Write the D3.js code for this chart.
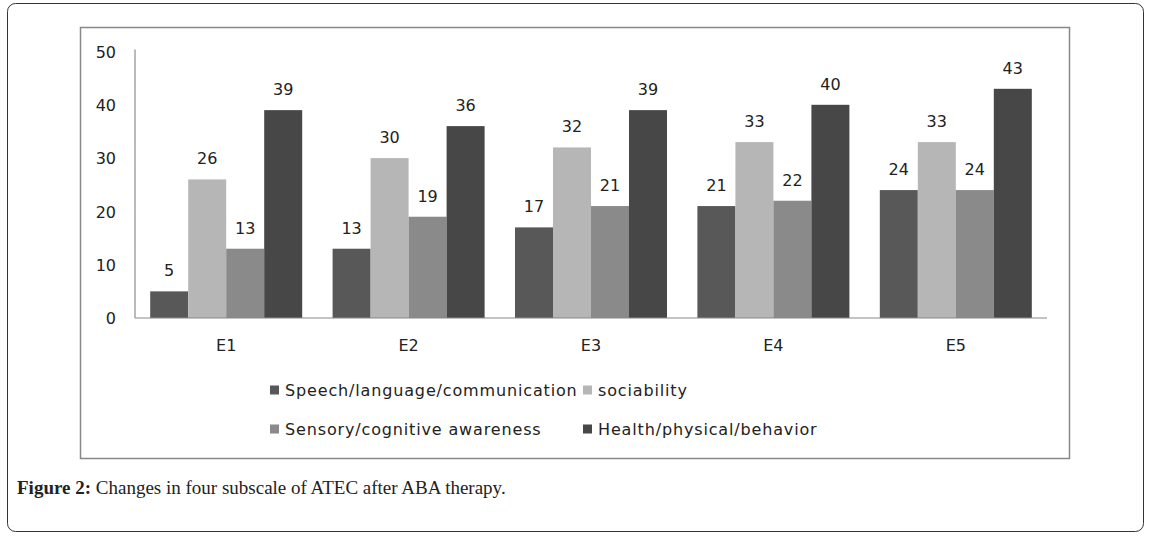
<!DOCTYPE html>
<html>
<head>
<meta charset="utf-8">
<script src="https://cdn.jsdelivr.net/npm/d3@7"></script>
<style>
  body { margin: 0; background: #fff; }
  svg { display: block; }
</style>
</head>
<body>
<div id="chart"></div>
<script>
var categories = ['E1', 'E2', 'E3', 'E4', 'E5'];
var seriesNames = ['Speech/language/communication', 'sociability', 'Sensory/cognitive awareness', 'Health/physical/behavior'];
var speech = [5, 13, 17, 21, 24];
var sociability = [26, 30, 32, 33, 33];
var sensory = [13, 19, 21, 22, 24];
var health = [39, 36, 39, 40, 43];
var yTicks = [0, 10, 20, 30, 40, 50];
var colors = ['#585858', '#b6b6b6', '#8a8a8a', '#474747'];

var series = [speech, sociability, sensory, health];

var W = 1152, H = 536;
var svg = d3.select('#chart').append('svg')
  .attr('width', W)
  .attr('height', H);

// outer frame
svg.append('rect')
  .attr('x', 7.5).attr('y', 3.5)
  .attr('width', 1136).attr('height', 528)
  .attr('rx', 8).attr('ry', 8)
  .style('fill', 'none').style('stroke', '#333').style('stroke-width', 1);

// chart area border
svg.append('rect')
  .attr('x', 80.5).attr('y', 27.5)
  .attr('width', 989).attr('height', 431)
  .style('fill', '#fff').style('stroke', '#888').style('stroke-width', 1.5);

var x0 = d3.scaleBand()
  .domain(categories)
  .range([135, 1047])
  .paddingInner(0.1667)
  .paddingOuter(0.0833);

var x1 = d3.scaleBand()
  .domain(d3.range(series.length))
  .range([0, x0.bandwidth()]);

var y = d3.scaleLinear()
  .domain([0, 50])
  .range([318, 51.5]);

var font = "'DejaVu Sans', sans-serif";

// bars
var groups = svg.append('g').selectAll('g')
  .data(categories)
  .join('g')
  .attr('transform', function(d) { return 'translate(' + x0(d) + ',0)'; });

groups.selectAll('rect')
  .data(function(d, i) { return series.map(function(s, k) { return {k: k, v: s[i]}; }); })
  .join('rect')
  .attr('x', function(d) { return x1(d.k); })
  .attr('width', x1.bandwidth())
  .attr('y', function(d) { return y(d.v); })
  .attr('height', function(d) { return y(0) - y(d.v); })
  .style('fill', function(d) { return colors[d.k]; });

groups.selectAll('text')
  .data(function(d, i) { return series.map(function(s, k) { return {k: k, v: s[i]}; }); })
  .join('text')
  .attr('x', function(d) { return x1(d.k) + x1.bandwidth() / 2; })
  .attr('y', function(d) { return y(d.v) - 15; })
  .attr('text-anchor', 'middle')
  .style('font-family', font)
  .style('font-size', '16px')
  .style('fill', '#222')
  .text(function(d) { return d.v; });

// y axis
var yAxis = svg.append('g')
  .attr('transform', 'translate(135,0)')
  .call(d3.axisLeft(y).tickValues(yTicks).tickSize(0).tickPadding(19));
yAxis.select('.domain').attr('d', 'M0,' + (y(50) - 2) + 'V' + y(0)).style('stroke', '#777');
yAxis.selectAll('text')
  .style('font-family', font).style('font-size', '16px').style('fill', '#222')
  .attr('dy', '0.35em');

// x axis
var xAxis = svg.append('g')
  .attr('transform', 'translate(0,' + y(0) + ')')
  .call(d3.axisBottom(x0).tickSize(0).tickPadding(22));
xAxis.select('.domain').attr('d', 'M135,0H1047').style('stroke', '#888');
xAxis.selectAll('text')
  .style('font-family', font).style('font-size', '16px').style('fill', '#222');

// legend
var legendPos = [[270, 390], [583, 390], [270, 429], [583, 429]];
var legend = svg.append('g').selectAll('g')
  .data(seriesNames)
  .join('g')
  .attr('transform', function(d, i) { return 'translate(' + legendPos[i][0] + ',' + legendPos[i][1] + ')'; });
legend.append('rect')
  .attr('x', 0).attr('y', -4.5).attr('width', 9).attr('height', 9)
  .style('fill', function(d, i) { return colors[i]; });
legend.append('text')
  .attr('x', 15).attr('dy', '0.35em')
  .style('font-family', font).style('font-size', '16px').style('fill', '#222')
  .style('letter-spacing', '0.85px')
  .text(function(d) { return d; });

// caption
var cap = svg.append('text')
  .attr('x', 17).attr('y', 494)
  .style('font-family', "'Liberation Serif', serif")
  .style('font-size', '19px')
  .style('fill', '#222');
cap.append('tspan').style('font-weight', 'bold').text('Figure 2:');
cap.append('tspan').text(' Changes in four subscale of ATEC after ABA therapy.');
</script>
</body>
</html>
